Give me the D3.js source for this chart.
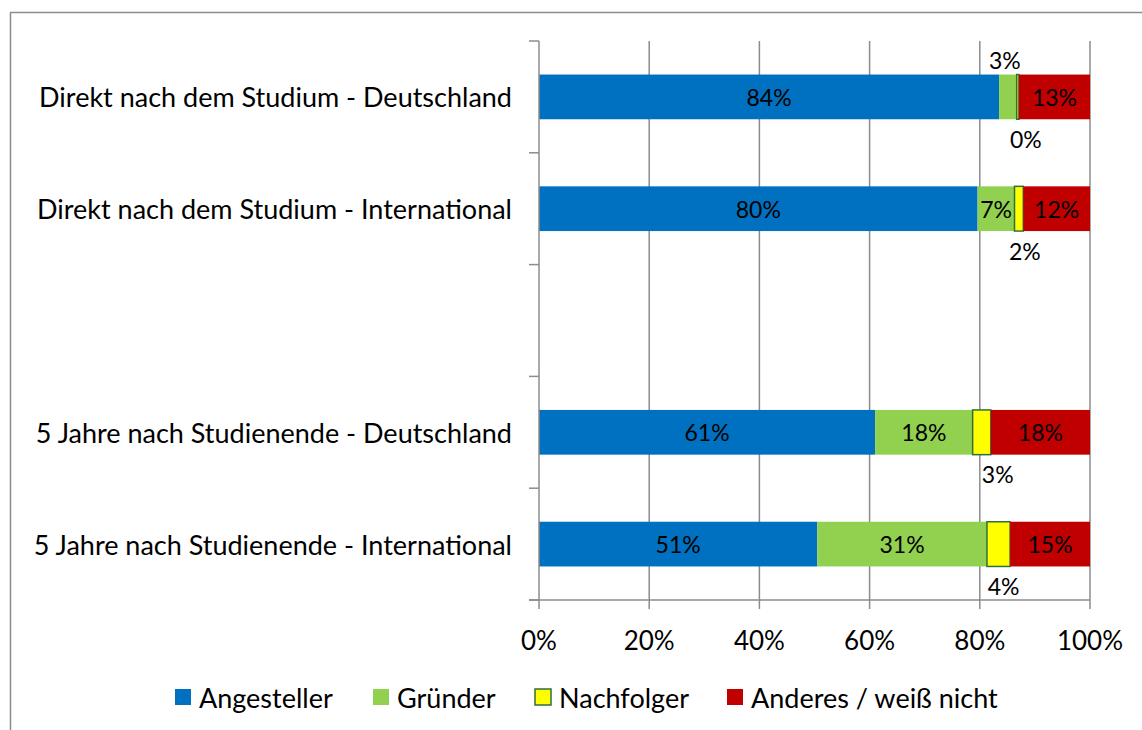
<!DOCTYPE html>
<html>
<head>
<meta charset="utf-8">
<script src="https://cdn.jsdelivr.net/npm/d3@7"></script>
<style>
    body { margin: 0; background: #fff; }
    svg text { font-family: Lato, "Liberation Sans", sans-serif; fill: #000; }
</style>
</head>
<body>
<svg id="chart" width="1142" height="730"></svg>
<script>
// Categories, top to bottom ("" is the empty slot between the groups)
const categories = [
    "Direkt nach dem Studium - Deutschland",
    "Direkt nach dem Studium - International",
    "",
    "5 Jahre nach Studienende - Deutschland",
    "5 Jahre nach Studienende - International"
];

const seriesNames = ["Angesteller", "Gründer", "Nachfolger", "Anderes / weiß nicht"];
const seriesColors = ["#0070C0", "#92D050", "#FFFF00", "#C00000"];

// Shares per category (null for the empty slot)
const angesteller = [83.5, 79.6, null, 61.0, 50.5];
const gruender    = [3.2, 6.7, null, 17.7, 30.8];
const nachfolger  = [0.4, 1.6, null, 3.3, 4.2];
const anderes     = [12.9, 12.1, null, 18.0, 14.5];

const xTicks = [0, 20, 40, 60, 80, 100];

// Where a segment's label goes when it does not sit inside the bar
const labelPlacement = {
    "Gründer|0": {pos: "above", dx: -3},
    "Nachfolger|0": {pos: "below", dx: 8},
    "Nachfolger|1": {pos: "below", dx: 6},
    "Nachfolger|3": {pos: "below", dx: 16},
    "Nachfolger|4": {pos: "below", dx: 5}
};

const svg = d3.select("#chart");

// Outer chart frame
svg.append("rect")
    .attr("x", 10.5).attr("y", 12.5)
    .attr("width", 1145).attr("height", 730)
    .attr("fill", "none")
    .attr("stroke", "#8c8c8c")
    .attr("stroke-width", 1.5);

const x = d3.scaleLinear().domain([0, 100]).range([539, 1090]);
const y = d3.scaleBand().domain(d3.range(categories.length)).range([41, 600]);
const barH = y.bandwidth() * 0.4;

const rows = categories.map((c, i) => ({
    idx: i,
    "Angesteller": angesteller[i],
    "Gründer": gruender[i],
    "Nachfolger": nachfolger[i],
    "Anderes / weiß nicht": anderes[i]
}));
const stacked = d3.stack().keys(seriesNames)(rows.filter(r => r.Angesteller !== null));

// Vertical gridlines
svg.append("g").selectAll("line")
    .data(xTicks.slice(1))
    .enter().append("line")
    .attr("x1", d => x(d)).attr("x2", d => x(d))
    .attr("y1", 41).attr("y2", 600)
    .attr("stroke", "#8c8c8c").attr("stroke-width", 1.5);

// Bars
const layers = svg.append("g").selectAll("g")
    .data(stacked)
    .enter().append("g")
    .attr("fill", (d, i) => seriesColors[i]);

layers.selectAll("rect")
    .data(d => d.map(p => ({key: d.key, p: p})))
    .enter().append("rect")
    .attr("x", d => x(d.p[0]))
    .attr("width", d => x(d.p[1]) - x(d.p[0]))
    .attr("y", d => y(d.p.data.idx) + (y.bandwidth() - barH) / 2)
    .attr("height", barH)
    .attr("stroke", d => d.key === "Nachfolger" ? "#2f6f3e" : "none")
    .attr("stroke-width", 1.5);

// Segment labels
layers.selectAll("text")
    .data(d => d.map(p => ({key: d.key, p: p})))
    .enter().append("text")
    .attr("fill", "#000")
    .attr("font-size", 23)
    .attr("text-anchor", "middle")
    .attr("dominant-baseline", "central")
    .attr("x", d => {
        let pl = labelPlacement[d.key + "|" + d.p.data.idx];
        return (x(d.p[0]) + x(d.p[1])) / 2 + (pl ? pl.dx : 0);
    })
    .attr("y", d => {
        let pl = labelPlacement[d.key + "|" + d.p.data.idx];
        let cy = y(d.p.data.idx) + y.bandwidth() / 2;
        if (!pl) return cy;
        return pl.pos === "above" ? cy - 37 : cy + 42;
    })
    .text(d => Math.round(d.p[1] - d.p[0]) + "%");

// Vertical (category) axis
const yAxis = svg.append("g");
yAxis.append("line")
    .attr("x1", 539).attr("x2", 539)
    .attr("y1", 41).attr("y2", 600)
    .attr("stroke", "#8c8c8c").attr("stroke-width", 1.5);
yAxis.selectAll(".ytick")
    .data(d3.range(categories.length + 1))
    .enter().append("line")
    .attr("class", "ytick")
    .attr("x1", 529).attr("x2", 539)
    .attr("y1", i => 41 + i * y.step()).attr("y2", i => 41 + i * y.step())
    .attr("stroke", "#8c8c8c").attr("stroke-width", 1.5);
yAxis.selectAll("text")
    .data(categories)
    .enter().append("text")
    .attr("x", 512)
    .attr("y", (d, i) => y(i) + y.bandwidth() / 2)
    .attr("text-anchor", "end")
    .attr("dominant-baseline", "central")
    .attr("font-size", 27)
    .text(d => d);

// Horizontal (value) axis
const xAxis = svg.append("g");
xAxis.append("line")
    .attr("x1", 529).attr("x2", 1090)
    .attr("y1", 600).attr("y2", 600)
    .attr("stroke", "#8c8c8c").attr("stroke-width", 1.5);
xAxis.selectAll(".xtick")
    .data(xTicks)
    .enter().append("line")
    .attr("class", "xtick")
    .attr("x1", d => x(d)).attr("x2", d => x(d))
    .attr("y1", 600).attr("y2", 609)
    .attr("stroke", "#8c8c8c").attr("stroke-width", 1.5);
xAxis.selectAll("text")
    .data(xTicks)
    .enter().append("text")
    .attr("x", d => x(d))
    .attr("y", 640)
    .attr("text-anchor", "middle")
    .attr("dominant-baseline", "central")
    .attr("font-size", 26)
    .text(d => d + "%");

// Legend
const legendX = [175, 373, 535, 727];
const legend = svg.append("g").selectAll("g")
    .data(seriesNames)
    .enter().append("g")
    .attr("transform", (d, i) => "translate(" + legendX[i] + ",689)");
legend.append("rect")
    .attr("width", 16).attr("height", 16)
    .attr("fill", (d, i) => seriesColors[i])
    .attr("stroke", d => d === "Nachfolger" ? "#2f6f3e" : "none")
    .attr("stroke-width", 1.5);
legend.append("text")
    .attr("x", 24).attr("y", 8)
    .attr("dominant-baseline", "central")
    .attr("font-size", 27)
    .text(d => d);
</script>
</body>
</html>
